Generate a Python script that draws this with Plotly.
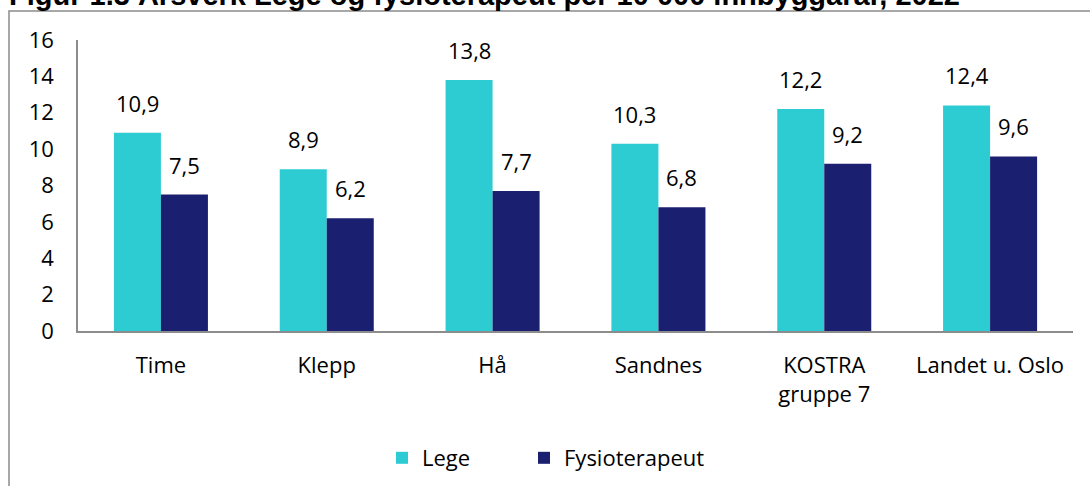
import plotly.graph_objects as go

categories = ["Time", "Klepp", "Hå", "Sandnes", "KOSTRA<br>gruppe 7", "Landet u. Oslo"]
lege = [10.9, 8.9, 13.8, 10.3, 12.2, 12.4]
fysio = [7.5, 6.2, 7.7, 6.8, 9.2, 9.6]
y_ticks = [0, 2, 4, 6, 8, 10, 12, 14, 16]

title_text = "Figur 1.3 Årsverk Lege og fysioterapeut per 10 000 innbyggarar, 2022"

FONT = "Open Sans"
FS = 22
CYAN = "#2DCCD3"
NAVY = "#1B1F6F"
GREY = "#8C8C8C"

W, H = 1090, 486
ML, MR, MT, MB = 78, 17, 40, 155
PW = W - ML - MR
PH = H - MT - MB


def px_x(p):
    return (p - ML) / PW


def px_y(p):
    return (H - MB - p) / PH


def fmt(v):
    return f"{v:.1f}".replace(".", ",")


fig = go.Figure()
fig.add_trace(go.Bar(name="Lege", x=categories, y=lege, legend="legend",
                     marker=dict(color=CYAN, line=dict(width=0))))
fig.add_trace(go.Bar(name="Fysioterapeut", x=categories, y=fysio, legend="legend2",
                     marker=dict(color=NAVY, line=dict(width=0))))

annotations = []
for cat, a, b in zip(categories, lege, fysio):
    for val, shift in ((a, -23.5), (b, 23.5)):
        annotations.append(dict(
            x=cat, y=val, xref="x", yref="y", text=fmt(val), showarrow=False,
            xshift=shift, yanchor="bottom", yshift=13,
            font=dict(family=FONT, size=FS, color="#000000"),
        ))

annotations.append(dict(
    x=px_x(7), y=1, xref="paper", yref="paper", xanchor="left", yanchor="bottom",
    yshift=27, text="<b>" + title_text + "</b>", showarrow=False,
    font=dict(family="Liberation Sans", size=29, color="#000000"),
))

legend_style = dict(
    orientation="h", xanchor="left", yanchor="top",
    font=dict(family=FONT, size=FS, color="#000000"),
    bgcolor="rgba(0,0,0,0)",
)

fig.update_layout(
    width=W, height=H,
    margin=dict(l=ML, r=MR, t=MT, b=MB, pad=0, autoexpand=False),
    paper_bgcolor="white", plot_bgcolor="white",
    barmode="group", bargap=0.433, bargroupgap=0,
    font=dict(family=FONT, size=FS, color="#000000"),
    showlegend=True,
    legend=dict(x=px_x(382), y=px_y(437), **legend_style),
    legend2=dict(x=px_x(524), y=px_y(437), **legend_style),
    xaxis=dict(
        showgrid=False, showline=True, linecolor=GREY, linewidth=1.5,
        ticks="", ticklabelstandoff=14, zeroline=False, automargin=False,
    ),
    yaxis=dict(
        range=[0, 16], tickvals=y_ticks, ticktext=[str(t) for t in y_ticks],
        showgrid=False, zeroline=False, showline=True, linecolor=GREY, linewidth=1.5,
        ticks="", ticklabelstandoff=18, automargin=False,
    ),
    annotations=annotations,
    shapes=[dict(
        type="rect", xref="paper", yref="paper",
        x0=px_x(9), x1=px_x(1110), y0=px_y(11), y1=px_y(520),
        line=dict(color=GREY, width=1.5), fillcolor="rgba(0,0,0,0)", layer="below",
    )],
)

fig.write_html("out.html")
